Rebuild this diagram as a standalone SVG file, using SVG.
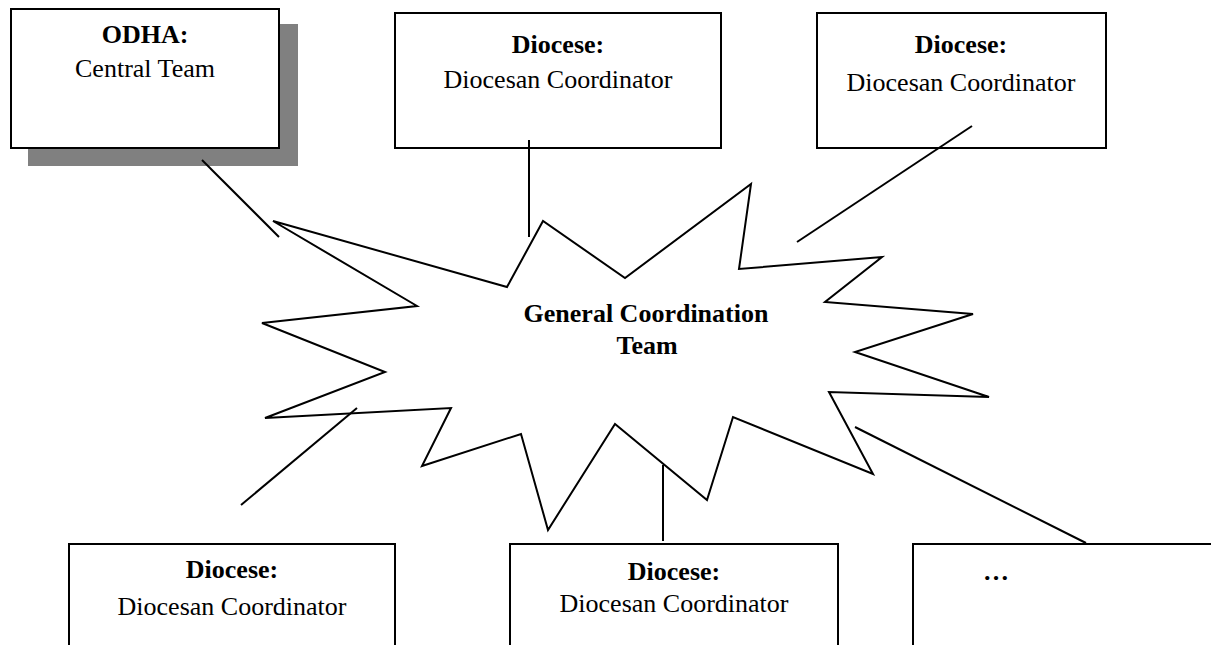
<svg xmlns="http://www.w3.org/2000/svg" width="1211" height="645" viewBox="0 0 1211 645">
<style>
.box{fill:#fff;stroke:#000;stroke-width:2}
.ln{stroke:#000;stroke-width:2;fill:none}
text{font-family:"Liberation Serif","Times New Roman",serif;font-size:26px;fill:#000;text-anchor:middle}
.b{font-weight:bold}
</style>
<rect x="0" y="0" width="1211" height="645" fill="#fff"/>
<g id="odha">
<rect x="28" y="24" width="270" height="142" fill="#808080"/>
<rect class="box" x="11" y="9" width="268" height="139"/>
<text class="b" x="145" y="43">ODHA:</text>
<text x="145" y="77">Central Team</text>
</g>
<g id="diocese1">
<rect class="box" x="395" y="13" width="326" height="135"/>
<text class="b" x="558" y="53">Diocese:</text>
<text x="558" y="88">Diocesan Coordinator</text>
</g>
<g id="diocese2">
<rect class="box" x="817" y="13" width="289" height="135"/>
<text class="b" x="961" y="53">Diocese:</text>
<text x="961" y="91">Diocesan Coordinator</text>
</g>
<g id="gct">
<polygon class="box" points="273,221 507,287 543,221 625,278 751,184 739,269 882,257 825,302 973,314 855,352 989,397 829,392 873,474 733,417 707,500 615,424 548,530 521,434 422,466 451,408 265,418 385,372 262,323 417,306"/>
<text class="b" x="646" y="322">General Coordination</text>
<text class="b" x="647" y="354">Team</text>
</g>
<g id="diocese3">
<rect class="box" x="69" y="544" width="326" height="140"/>
<text class="b" x="232" y="578">Diocese:</text>
<text x="232" y="615">Diocesan Coordinator</text>
</g>
<g id="diocese4">
<rect class="box" x="510" y="544" width="328" height="140"/>
<text class="b" x="674" y="580">Diocese:</text>
<text x="674" y="612">Diocesan Coordinator</text>
</g>
<g id="more">
<rect class="box" x="913" y="544" width="320" height="140"/>
<text class="b" x="996" y="580">…</text>
</g>
<g id="connectors">
<line class="ln" x1="202" y1="160" x2="279" y2="237"/>
<line class="ln" x1="529" y1="140" x2="529" y2="237"/>
<line class="ln" x1="972" y1="126" x2="797" y2="242"/>
<line class="ln" x1="357" y1="408" x2="241" y2="505"/>
<line class="ln" x1="663" y1="465" x2="663" y2="541"/>
<line class="ln" x1="855" y1="427" x2="1086" y2="543"/>
</g>
</svg>
